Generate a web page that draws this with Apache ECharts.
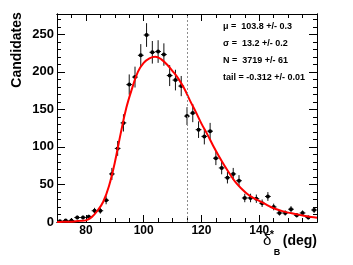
<!DOCTYPE html>
<html>
<head>
<meta charset="utf-8">
<script src="https://cdn.jsdelivr.net/npm/echarts@6/dist/echarts.min.js"></script>
<style>
html,body{margin:0;padding:0;background:#fff;}
#chart{width:353px;height:265px;}
</style>
</head>
<body>
<div id="chart"></div>
<script>
// ---- data ----
const binCenters = [71,73,75,77,79,81,83,85,87,89,91,93,95,97,99,101,103,105,107,109,111,113,115,117,119,121,123,125,127,129,131,133,135,137,139,141,143,145,147,149,151,153,155,157,159];
const counts     = [1,2,2,6,6,7,15,15,29,64,98,132,183,193,222,249,226,227,223,195,189,181,141,145,123,114,121,85,72,59,64,55,32,32,31,25,34,20,12,12,17,9,12,6,16];
const binHalfWidth = 1;

const fitX = [70,72,74,76,78,80,82,84,86,88,90,92,94,96,98,100,102,104,106,108,110,112,114,116,118,120,122,124,126,128,130,132,134,136,138,140,142,144,146,148,150,152,154,156,158,160];
const fitY = [0.1,0.2,0.4,0.8,1.5,2.2,6.5,15,27,48,79,117,152,178,200,212,218,220,217,210,201,191,178,162,147,131,117,102,88,75,63,52,44,37,32,28,24,20,17,14.5,12.5,11,9.5,8,6.8,5.8];

const cutValue = 115;
const xMin = 70, xMax = 160;
const yMin = 0, yMax = 277;
const xMajorTicks = [80,100,120,140];
const yMajorTicks = [0,50,100,150,200,250];
const fitLines = ['\u03bc =  103.8 +/- 0.3', '\u03c3 =  13.2 +/- 0.2', 'N =  3719 +/- 61', 'tail = -0.312 +/- 0.01'];
const yTitle = 'Candidates';

// ---- chart ----
const chart = echarts.init(document.getElementById('chart'), null, {renderer:'canvas'});
const FONT = '"Liberation Sans", Arial, Helvetica, sans-serif';
const black = '#000';

function xAx(pos, major) {
  return {
    type:'value', position:pos, min:xMin, max:xMax, gridIndex:0,
    interval: major ? undefined : 5,
    axisLine:{show:true, onZero:false, lineStyle:{color:black, width:1}},
    splitLine:{show:false},
    axisTick: major ? {show:true, inside:true, length:7, customValues:xMajorTicks, lineStyle:{color:black,width:1}}
                    : {show:true, inside:true, length:4, lineStyle:{color:black,width:1}},
    axisLabel: (major && pos==='bottom') ? {show:true, customValues:xMajorTicks, margin:3, color:black, fontFamily:FONT, fontWeight:'bold', fontSize:12}
                                         : {show:false}
  };
}
function yAx(pos, major) {
  return {
    type:'value', position:pos, min:yMin, max:yMax, gridIndex:0,
    interval: major ? undefined : 10,
    axisLine:{show:true, onZero:false, lineStyle:{color:black, width:1}},
    splitLine:{show:false},
    axisTick: major ? {show:true, inside:true, length:8, customValues:yMajorTicks, lineStyle:{color:black,width:1}}
                    : {show:true, inside:true, length:4, lineStyle:{color:black,width:1}},
    axisLabel: (major && pos==='left') ? {show:true, customValues:yMajorTicks, margin:3, color:black, fontFamily:FONT, fontWeight:'bold', fontSize:13}
                                       : {show:false}
  };
}

const pointData = binCenters.map((x,i)=>[x, counts[i], binHalfWidth, Math.sqrt(counts[i])]);
const fitData = fitX.map((x,i)=>[x, fitY[i]]);

const option = {
  backgroundColor:'#fff',
  animation:false,
  grid:{left:57, top:14, width:260, height:208, containLabel:false},
  xAxis:[xAx('bottom',true), xAx('bottom',false), xAx('top',true), xAx('top',false)],
  yAxis:[yAx('left',true), yAx('left',false), yAx('right',true), yAx('right',false)],
  series:[
    {
      type:'custom', xAxisIndex:0, yAxisIndex:0, clip:true, z:3,
      data:pointData,
      encode:{x:0, y:1},
      renderItem:function(params, api){
        const x = api.value(0), y = api.value(1), ex = api.value(2), ey = api.value(3);
        const p = api.coord([x,y]);
        const l = api.coord([x-ex,y]), r = api.coord([x+ex,y]);
        const t = api.coord([x,y+ey]), b = api.coord([x,Math.max(y-ey,0)]);
        return {type:'group', children:[
          {type:'line', shape:{x1:l[0],y1:p[1],x2:r[0],y2:p[1]}, style:{stroke:'#111', lineWidth:1}},
          {type:'line', shape:{x1:p[0],y1:t[1],x2:p[0],y2:b[1]}, style:{stroke:'#111', lineWidth:1}},
          {type:'circle', shape:{cx:p[0], cy:p[1], r:2}, style:{fill:'#000'}}
        ]};
      }
    },
    {
      type:'line', xAxisIndex:0, yAxisIndex:0, data:fitData, smooth:0.4, showSymbol:false, symbol:'none', z:4,
      lineStyle:{color:'#ff0000', width:2},
      markLine:{
        silent:true, symbol:'none', label:{show:false},
        lineStyle:{color:'#8c8c8c', type:[2,2], width:1},
        data:[{xAxis:cutValue}]
      }
    }
  ],
  graphic:[
    {type:'text', x:17, y:50, rotation:Math.PI/2, style:{text:yTitle, font:'bold 14px '+FONT, fill:black, textAlign:'center', textVerticalAlign:'middle'}},
    {type:'text', x:263, y:241, style:{text:'\u03b4', font:'15px '+FONT, fill:black, textAlign:'left', textVerticalAlign:'middle'}},
    {type:'text', x:272, y:235, style:{text:'*', font:'bold 11px '+FONT, fill:black, textAlign:'center', textVerticalAlign:'middle'}},
    {type:'text', x:277, y:252.5, style:{text:'B', font:'bold 9px '+FONT, fill:black, textAlign:'center', textVerticalAlign:'middle'}},
    {type:'text', x:317, y:241, style:{text:'(deg)', font:'bold 14px '+FONT, fill:black, textAlign:'right', textVerticalAlign:'middle'}},
    {type:'text', x:223, y:27, style:{text:fitLines[0], font:'bold 9px '+FONT, fill:black, textAlign:'left', textVerticalAlign:'middle'}},
    {type:'text', x:223, y:43.7, style:{text:fitLines[1], font:'bold 9px '+FONT, fill:black, textAlign:'left', textVerticalAlign:'middle'}},
    {type:'text', x:223, y:60.5, style:{text:fitLines[2], font:'bold 9px '+FONT, fill:black, textAlign:'left', textVerticalAlign:'middle'}},
    {type:'text', x:223, y:77.3, style:{text:fitLines[3], font:'bold 9px '+FONT, fill:black, textAlign:'left', textVerticalAlign:'middle'}}
  ]
};
chart.setOption(option);
</script>
</body>
</html>
